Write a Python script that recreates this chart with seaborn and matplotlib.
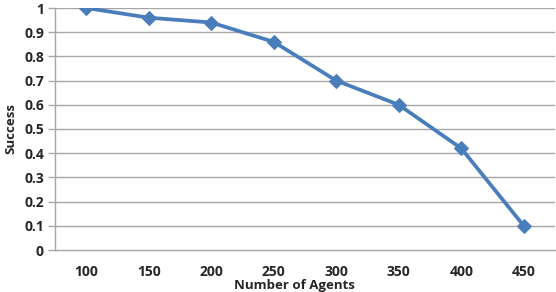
import matplotlib
matplotlib.use("Agg")
import matplotlib.pyplot as plt
import seaborn as sns
import pandas as pd
import numpy as np

agents = ["100", "150", "200", "250", "300", "350", "400", "450"]
success = [1.0, 0.96, 0.94, 0.86, 0.70, 0.60, 0.42, 0.10]
y_ticks = [0, 0.1, 0.2, 0.3, 0.4, 0.5, 0.6, 0.7, 0.8, 0.9, 1]
y_labels = ["0", "0.1", "0.2", "0.3", "0.4", "0.5", "0.6", "0.7", "0.8", "0.9", "1"]

sns.set_style("white")
plt.rcParams["font.family"] = ["Open Sans", "DejaVu Sans"]
plt.rcParams["font.weight"] = "bold"

frame = pd.DataFrame({"pos": np.arange(len(agents)), "success": success})

fig = plt.figure(figsize=(5.56, 2.92), dpi=100)
ax = fig.add_axes([55 / 556, 42 / 292, 500 / 556, 242 / 292])

grid_col = "#a6a6a6"
for v in y_ticks[1:]:
    ax.axhline(v, color=grid_col, lw=1.0, zorder=0)

sns.lineplot(data=frame, x="pos", y="success", ax=ax, color="#4a7ebb", lw=2.7,
             marker="D", markersize=7.5, markeredgecolor="#4a7ebb", zorder=3)

ax.set_xlim(-0.5, len(agents) - 0.5)
ax.set_ylim(0, 1)
ax.set_xticks(np.arange(len(agents)))
ax.set_xticklabels(agents, fontsize=10, fontweight="bold")
ax.set_xticks(np.arange(len(agents) + 1) - 0.5, minor=True)
ax.tick_params(axis="x", which="major", length=0, pad=11)
ax.tick_params(axis="x", which="minor", length=5, color=grid_col, width=1)
ax.set_yticks(y_ticks)
ax.set_yticklabels(y_labels, fontsize=10, fontweight="bold")
ax.tick_params(axis="y", length=5, color=grid_col, width=1, pad=3, left=True)

for s in ["top", "right"]:
    ax.spines[s].set_visible(False)
for s in ["left", "bottom"]:
    ax.spines[s].set_color(grid_col)
    ax.spines[s].set_linewidth(1)

ax.set_xlabel("Number of Agents", fontsize=9.5, fontweight="bold")
ax.xaxis.set_label_coords(0.478, -0.118)
ax.set_ylabel("Success", fontsize=9.5, fontweight="bold")
ax.yaxis.set_label_coords(-0.075, 0.5)

fig.savefig("out.png", dpi=100)
